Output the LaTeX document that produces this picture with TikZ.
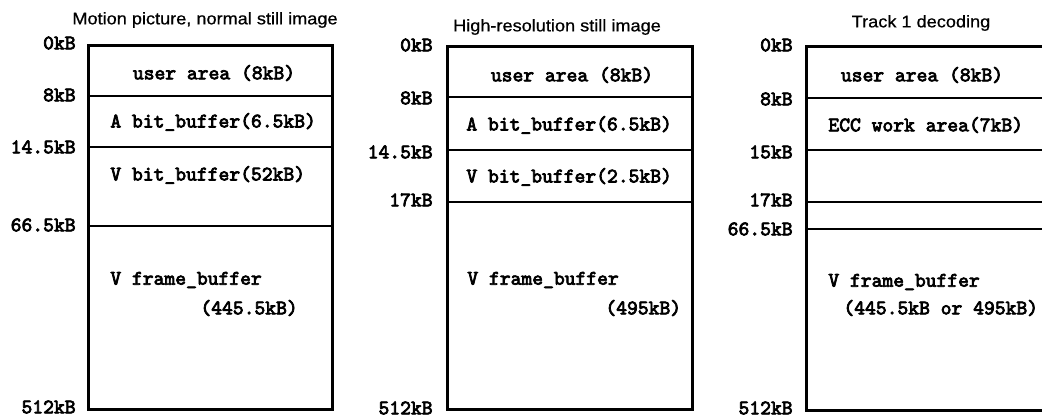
\documentclass[tikz,border=0pt]{standalone}
\usepackage{fontspec}
\usepackage{graphicx}
\setmainfont{Liberation Serif}
\setsansfont{Liberation Sans}
\newfontfamily\memfont[FakeBold=3.5]{Latin Modern Mono}
\newfontfamily\ttlfont[FakeBold=0.6]{Liberation Sans}
\begin{document}
\begin{tikzpicture}[x=0.5pt,y=-0.5pt,
  outer/.style={line width=1.5pt},
  sep/.style={line width=0.75pt},
  mem/.style={font=\memfont\fontsize{10.3}{11}\selectfont, inner sep=0pt},
  addr/.style={mem, anchor=east},
  lft/.style={mem, anchor=west},
  ttl/.style={font=\ttlfont\fontsize{8.4}{9}\selectfont, inner sep=0pt}]
\useasboundingbox (0,0) rectangle (1042,417);
\clip (0,0) rectangle (1042,417);
\fill[white] (0,0) rectangle (1042,417);

% titles
\node[ttl] (t1) at (205,20) {\scalebox{1.08}[1]{Motion picture, normal still image}};
\node[ttl] (t2) at (557,27) {\scalebox{1.08}[1]{High-resolution still image}};
\node[ttl] (t3) at (921,23) {\scalebox{1.08}[1]{Track 1 decoding}};

% ---------- box 1 ----------
\draw[sep] (88,96) -- (332,96);
\draw[sep] (88,147) -- (332,147);
\draw[sep] (88,226) -- (332,226);
\draw[outer] (88,46) rectangle (332,409);
\node[addr] (a10) at (76,43) {0kB};
\node[addr] (a11) at (76,95) {8kB};
\node[addr] (a12) at (76,147) {14.5kB};
\node[addr] (a13) at (76,225) {66.5kB};
\node[addr] (a14) at (76,407) {512kB};
\node[mem] (u1) at (214,73) {user area (8kB)};
\node[lft] (ab1) at (110,122) {A bit\_buffer(6.5kB)};
\node[lft] (vb1) at (110,175) {V bit\_buffer(52kB)};
\node[lft] (vf1) at (110,280) {V frame\_buffer};
\node[lft] (vs1) at (200,308) {(445.5kB)};

% ---------- box 2 ----------
\draw[sep] (447,97) -- (692,97);
\draw[sep] (447,150) -- (692,150);
\draw[sep] (447,202) -- (692,202);
\draw[outer] (447,47) rectangle (692,409);
\node[addr] (a20) at (433,45) {0kB};
\node[addr] (a21) at (433,98) {8kB};
\node[addr] (a22) at (433,152) {14.5kB};
\node[addr] (a23) at (433,200) {17kB};
\node[addr] (a24) at (433,408) {512kB};
\node[mem] (u2) at (572,75) {user area (8kB)};
\node[lft] (ab2) at (466,125) {A bit\_buffer(6.5kB)};
\node[lft] (vb2) at (466,177) {V bit\_buffer(2.5kB)};
\node[lft] (vf2) at (467,280) {V frame\_buffer};
\node[lft] (vs2) at (605,308) {(495kB)};

% ---------- box 3 ----------
\draw[sep] (806,98) -- (1060,98);
\draw[sep] (806,150) -- (1060,150);
\draw[sep] (806,202) -- (1060,202);
\draw[sep] (806,229) -- (1060,229);
\draw[outer] (806,47) rectangle (1060,410);
\node[addr] (a30) at (793,45) {0kB};
\node[addr] (a31) at (793,99) {8kB};
\node[addr] (a32) at (793,152) {15kB};
\node[addr] (a33) at (793,200) {17kB};
\node[addr] (a34) at (793,229) {66.5kB};
\node[addr] (a35) at (793,408) {512kB};
\node[mem] (u3) at (922,75) {user area (8kB)};
\node[lft] (ecc) at (828,125) {ECC work area(7kB)};
\node[lft] (vf3) at (828,282) {V frame\_buffer};
\node[lft] (vs3) at (843,308) {(445.5kB or 495kB)};
\end{tikzpicture}
\end{document}
